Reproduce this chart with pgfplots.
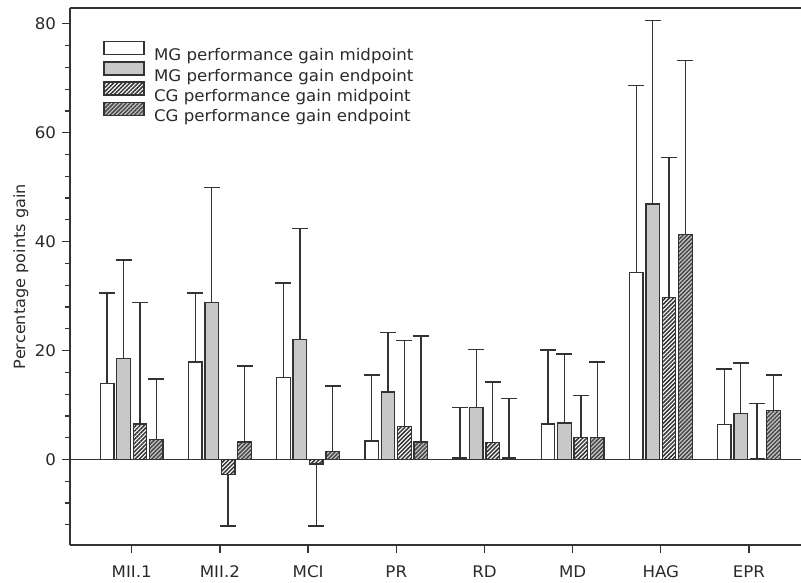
\documentclass[border=0pt]{standalone}
\usepackage{fontspec}
\setmainfont{DejaVu Sans}[FakeStretch=1.04]
\usepackage{pgfplots}
\pgfplotsset{compat=1.18}
\usetikzlibrary{patterns.meta}
\definecolor{linec}{HTML}{333333}
\definecolor{barg}{HTML}{C8C8C8}
\definecolor{txt}{HTML}{2A2A2A}
\pgfplotsset{
  mybar/.style={ybar, bar width=13.5pt, bar shift=0pt, draw=linec, line width=1.3pt,
    error bars/y dir=plus, error bars/y explicit,
    error bars/error bar style={draw=linec, line width=1.4pt, solid},
    error bars/error mark options={rotate=90, draw=linec, line width=1.4pt, mark size=8pt},
    legend image code/.code={\draw[##1] (0pt,1.3pt) rectangle (40pt,14.3pt);}},
  hatchA/.style={pattern={Lines[angle=45, distance=2.9pt, line width=1.5pt]}, pattern color=linec, preaction={fill=white}},
  hatchB/.style={pattern={Lines[angle=45, distance=2.9pt, line width=1.5pt]}, pattern color=linec!90, preaction={fill=barg}},
}
\begin{document}
{\fontsize{16}{19}\selectfont
\begin{tikzpicture}
\useasboundingbox (-70pt,-37pt) rectangle (731pt,545pt);
\begin{axis}[
  at={(0pt,0pt)}, anchor=south west, scale only axis,
  width=731pt, height=537pt,
  xmin=-0.70, xmax=7.59, ymin=-15.7, ymax=82.9,
  axis x line=box, axis y line=left,
  axis line style={-, draw=linec, line width=1.4pt},
  xtick={0,...,7}, xticklabels={MII.1,MII.2,MCI,PR,RD,MD,HAG,EPR},
  ytick={0,20,40,60,80},
  minor ytick={-12,-8,-4,4,8,12,16,24,28,32,36,44,48,52,56,64,68,72,76},
  tick align=outside, xtick pos=bottom, ytick pos=left,
  major tick length=7.5pt, minor tick length=5pt,
  tick style={draw=linec, line width=1.2pt},
  /pgf/number format/assume math mode=true,
  ticklabel style={font=\fontsize{16}{19}\selectfont, text=txt},
  xticklabel style={yshift=-8pt},
  yticklabel style={xshift=-1pt},
  ylabel={Percentage points gain},
  ylabel style={at={(axis description cs:-0.0674,0.5)}, anchor=center, font=\fontsize{15.5}{18}\selectfont, text=txt},
  extra y ticks={0}, extra y tick labels={},
  extra y tick style={grid=major, major grid style={draw=linec, line width=1.2pt}},
  legend cell align=left,
  legend style={draw=none, fill=none, at={(axis description cs:0.0456,0.9385)}, anchor=north west,
    inner sep=0pt, outer sep=0pt, row sep=-2pt, column sep=9.4pt,
    font=\fontsize{16}{19}\selectfont, text=txt,
    nodes={inner sep=0pt}},
]
% white: MG midpoint (offset -0.279)
\addplot[mybar, fill=white] table[x expr=\thisrow{x}-0.279, y=y, y error plus=e] {
x y e
0 14.0 16.6
1 17.9 12.7
2 15.0 17.4
3 3.4 12.1
4 0.3 9.2
5 6.5 13.6
6 34.3 34.4
7 6.4 10.2
};
\addlegendentry{MG performance gain midpoint}
% grey: MG endpoint (offset -0.093)
\addplot[mybar, fill=barg] table[x expr=\thisrow{x}-0.093, y=y, y error plus=e] {
x y e
0 18.5 18.1
1 28.8 21.1
2 22.0 20.4
3 12.4 10.9
4 9.5 10.7
5 6.7 12.7
6 46.9 33.7
7 8.5 9.25
};
\addlegendentry{MG performance gain endpoint}
% hatched: CG midpoint (offset +0.093)
\addplot[mybar, hatchA] table[x expr=\thisrow{x}+0.093, y=y, y error plus=e] {
x y e
0 6.5 22.3
3 6.0 15.9
4 3.1 11.1
5 4.0 7.7
6 29.75 25.65
7 0.2 10.1
};
\addlegendentry{CG performance gain midpoint}
\addplot[mybar, hatchA, error bars/y dir=minus, forget plot] table[x expr=\thisrow{x}+0.093, y=y, y error minus=e] {
x y e
1 -2.7 9.5
2 -0.8 11.4
};
% grey hatched: CG endpoint (offset +0.279)
\addplot[mybar, hatchB] table[x expr=\thisrow{x}+0.279, y=y, y error plus=e] {
x y e
0 3.7 11.05
1 3.2 14.0
2 1.5 12.0
3 3.2 19.5
4 0.3 10.95
5 4.0 13.9
6 41.25 32.05
7 9.0 6.55
};
\addlegendentry{CG performance gain endpoint}
\end{axis}
\end{tikzpicture}}
\end{document}
